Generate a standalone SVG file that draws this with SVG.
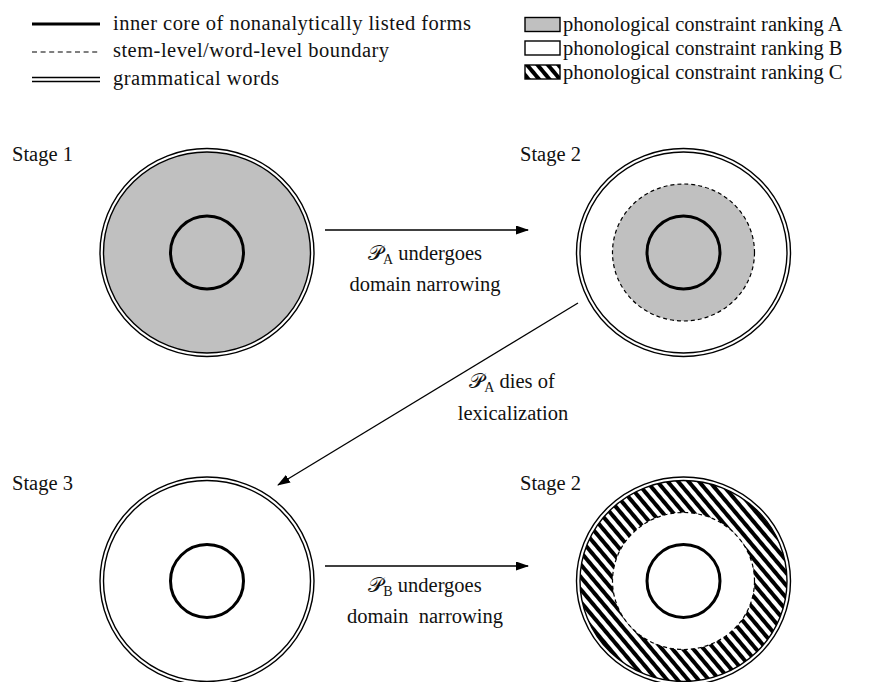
<svg xmlns="http://www.w3.org/2000/svg" width="874" height="682" viewBox="0 0 874 682">
<style>
text{font-family:"Liberation Serif","Times New Roman",Times,serif;font-size:20.5px;fill:#111}
.sub{font-size:14px}
.core{fill:none;stroke:#000;stroke-width:3}
.dbl{fill:none;stroke:#000;stroke-width:1.4}
.dash{stroke:#000;stroke-width:1.2;stroke-dasharray:4 3}
.conn{stroke:#000;stroke-width:1.3;fill:none;marker-end:url(#arr)}
.grey{fill:#c0c0c0}
</style>
<defs>
<marker id="arr" markerUnits="userSpaceOnUse" markerWidth="13" markerHeight="9" refX="12" refY="4.5" orient="auto">
<path d="M0,0 L13,4.5 L0,9 z" fill="#000"/>
</marker>
<pattern id="hatch" patternUnits="userSpaceOnUse" width="8" height="8" patternTransform="rotate(-40)">
<rect width="8" height="8" fill="#fff"/>
<rect width="4" height="8" fill="#000"/>
</pattern>
</defs>

<g id="legend">
<line x1="32" y1="24" x2="100" y2="24" stroke="#000" stroke-width="3"/>
<text x="113" y="30" textLength="358" lengthAdjust="spacing">inner core of nonanalytically listed forms</text>
<line x1="32" y1="52" x2="100" y2="52" stroke="#000" stroke-width="1.2" stroke-dasharray="5 3.6"/>
<text x="113" y="57" textLength="276" lengthAdjust="spacing">stem-level/word-level boundary</text>
<line x1="32" y1="77.5" x2="100" y2="77.5" stroke="#000" stroke-width="1.4"/>
<line x1="32" y1="81.5" x2="100" y2="81.5" stroke="#000" stroke-width="1.4"/>
<text x="113" y="85" textLength="166" lengthAdjust="spacing">grammatical words</text>
<rect x="525" y="17.5" width="35" height="14" class="grey" stroke="#000" stroke-width="1.4"/>
<text x="563" y="31">phonological constraint ranking A</text>
<rect x="525" y="41" width="35" height="14" fill="#fff" stroke="#000" stroke-width="1.4"/>
<text x="563" y="55">phonological constraint ranking B</text>
<rect x="525" y="65" width="35" height="14" fill="url(#hatch)" stroke="#000" stroke-width="1.4"/>
<text x="563" y="79">phonological constraint ranking C</text>
</g>

<g id="stage1">
<text x="12" y="161">Stage 1</text>
<ellipse cx="207" cy="252.5" rx="103.5" ry="100.5" class="grey"/>
<ellipse cx="207" cy="252.5" rx="107" ry="104" class="dbl"/>
<ellipse cx="207" cy="252.5" rx="103.5" ry="100.5" class="dbl"/>
<circle cx="207" cy="252.5" r="36.5" class="core"/>
</g>

<g id="stage2a">
<text x="520" y="161">Stage 2</text>
<ellipse cx="683.5" cy="252.5" rx="107" ry="104" class="dbl"/>
<ellipse cx="683.5" cy="252.5" rx="103.5" ry="100.5" class="dbl"/>
<ellipse cx="683.5" cy="252.5" rx="71" ry="68.5" class="grey dash"/>
<circle cx="683.5" cy="252.5" r="36.5" class="core"/>
</g>

<g id="stage3">
<text x="12" y="490">Stage 3</text>
<ellipse cx="207" cy="581" rx="107" ry="104" class="dbl"/>
<ellipse cx="207" cy="581" rx="103.5" ry="100.5" class="dbl"/>
<circle cx="207" cy="581" r="36.5" class="core"/>
</g>

<g id="stage2b">
<text x="520" y="490">Stage 2</text>
<ellipse cx="683.5" cy="581" rx="103.5" ry="100.5" fill="url(#hatch)"/>
<ellipse cx="683.5" cy="581" rx="107" ry="104" class="dbl"/>
<ellipse cx="683.5" cy="581" rx="103.5" ry="100.5" class="dbl"/>
<ellipse cx="683.5" cy="581" rx="71" ry="68.5" fill="#fff" class="dash"/>
<circle cx="683.5" cy="581" r="36.5" class="core"/>
</g>

<g id="connectors">
<line x1="325" y1="230" x2="528" y2="230" class="conn"/>
<line x1="578" y1="303" x2="278" y2="485" class="conn"/>
<line x1="325" y1="566" x2="528" y2="566" class="conn"/>
<text x="425" y="260" text-anchor="middle">𝒫<tspan class="sub" dy="4">A</tspan><tspan dy="-4"> undergoes</tspan></text>
<text x="425" y="291" text-anchor="middle">domain narrowing</text>
<text x="512" y="388" text-anchor="middle">𝒫<tspan class="sub" dy="4">A</tspan><tspan dy="-4"> dies of</tspan></text>
<text x="513" y="420" text-anchor="middle">lexicalization</text>
<text x="425" y="592" text-anchor="middle">𝒫<tspan class="sub" dy="4">B</tspan><tspan dy="-4"> undergoes</tspan></text>
<text x="425" y="623" text-anchor="middle" style="white-space:pre">domain  narrowing</text>
</g>
</svg>
